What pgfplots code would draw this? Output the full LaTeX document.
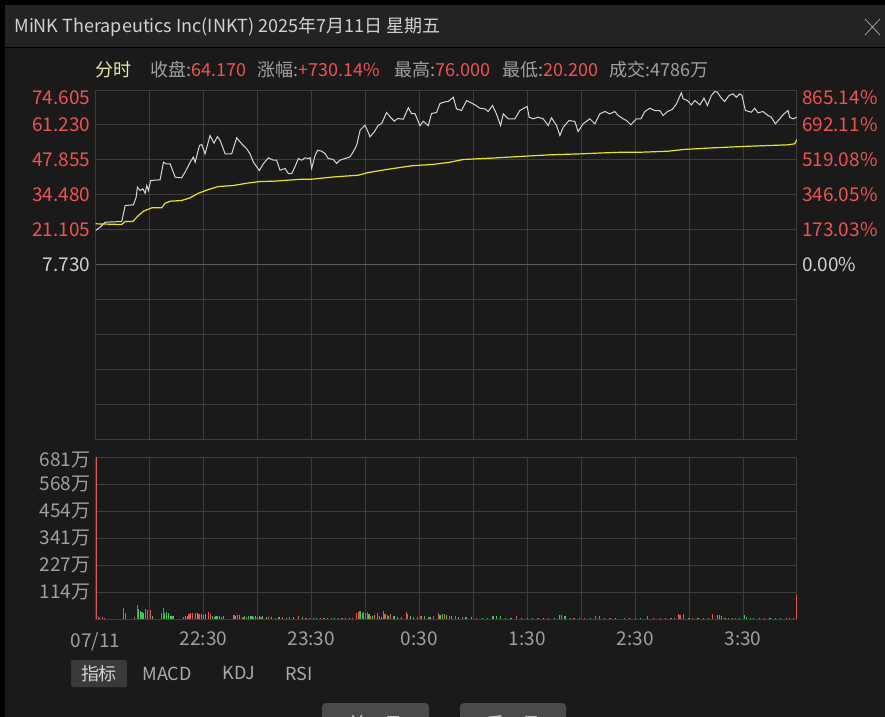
\documentclass[border=0pt]{standalone}
\usepackage{fontspec}
\setmainfont{Noto Sans CJK SC}
\usepackage{pgfplots}
\pgfplotsset{compat=1.18}

\definecolor{bg}{HTML}{1A1A1A}
\definecolor{titlebg}{HTML}{232323}
\definecolor{gridc}{HTML}{3D3D3D}
\definecolor{zeroc}{HTML}{5C5C5C}
\definecolor{upred}{HTML}{F05252}
\definecolor{txt}{HTML}{A0A0A0}
\definecolor{lightt}{HTML}{D2D2D2}
\definecolor{pricec}{HTML}{D6D6D6}
\definecolor{avgc}{HTML}{E6E619}
\definecolor{volred}{HTML}{E05555}
\definecolor{volgreen}{HTML}{3FC35A}
\definecolor{fenshi}{HTML}{E8E8A0}
\definecolor{btn}{HTML}{3A3A3A}
\definecolor{btn2}{HTML}{4A4A4A}

\newcommand{\fs}[1]{\fontsize{#1}{#1}\selectfont}

\begin{document}
\begin{tikzpicture}
\path[use as bounding box] (0,0) rectangle (442.5pt,-358.5pt);
\fill[bg] (0,0) rectangle (442.5pt,-358.5pt);
\begin{scope}[x=0.5pt,y=-0.5pt]
  \clip (0,0) rectangle (885,717);
  \fill[black] (0,0) rectangle (885,5);
  \fill[black] (0,0) rectangle (5,717);
  \fill[titlebg] (5,5) rectangle (885,48);
  \draw[black, line width=0.5pt] (5,48) -- (885,48);
  \node[anchor=west, text=lightt, font=\fs{9}, inner sep=0pt] at (14,27) {MiNK Therapeutics Inc(INKT) 2025年7月11日 星期五};
  \draw[txt, line width=0.4pt] (865,19) -- (880,35) (865,35) -- (880,19);
  % info line
  \begin{scope}[every node/.style={anchor=west, inner sep=0pt, font=\fs{9}}]
    \node[text=fenshi] at (95,70) {分时};
    \node at (150,70) {\textcolor{txt}{收盘:}\textcolor{upred}{64.170}};
    \node at (257,70) {\textcolor{txt}{涨幅:}\textcolor{upred}{+730.14\%}};
    \node at (394,70) {\textcolor{txt}{最高:}\textcolor{upred}{76.000}};
    \node at (502,70) {\textcolor{txt}{最低:}\textcolor{upred}{20.200}};
    \node at (609,70) {\textcolor{txt}{成交:4786万}};
  \end{scope}
  % indicator buttons
  \fill[btn, rounded corners=1pt] (71,660) rectangle (127,687);
  \node[text=lightt, font=\fs{9}] at (99,673.5) {指标};
  \node[text=txt!90!white, font=\fs{9}] at (167,673.5) {MACD};
  \node[text=txt!90!white, font=\fs{9}] at (239,673.5) {KDJ};
  \node[text=txt!90!white, font=\fs{9}] at (299,673.5) {RSI};
  % bottom buttons (cut off by the window edge, as in the screenshot)
  \fill[btn2, rounded corners=2pt] (322,703) rectangle (429,730);
  \fill[btn2, rounded corners=2pt] (460,703) rectangle (566,730);
  \node[text=lightt, font=\fs{9}] at (375,724) {前一日};
  \node[text=lightt, font=\fs{9}] at (513,724) {后一日};
\end{scope}

% ---------------- price panel ----------------
\begin{axis}[
  at={(47.75pt,-219.5pt)}, anchor=south west,
  scale only axis, width=350.75pt, height=174.5pt,
  xmin=0, xmax=390, ymin=-59.145, ymax=74.605,
  xtick={0,30,...,390}, xticklabels={},
  ytick={-59.145,-45.77,-32.395,-19.02,-5.645,7.73,21.105,34.48,47.855,61.23},
  yticklabels={,,,,,\textcolor{lightt}{7.730},21.105,34.480,47.855,61.230},
  extra y ticks={74.605}, extra y tick labels={74.605},
  extra y tick style={yticklabel style={yshift=-4pt}},
  grid=major, grid style={gridc, line width=0.5pt},
  axis line style={gridc, line width=0.5pt},
  major tick length=0,
  yticklabel style={font=\fs{9.5}, text=upred, anchor=east, xshift=1pt},
]
\addplot[zeroc, line width=0.9pt, forget plot] coordinates {(0,7.73) (390,7.73)};
\addplot[pricec, line width=0.5pt] coordinates {
(0,20.76) (2.6,22.02) (5.4,23.94) (14.6,24.21) (16.5,30.34) (21.1,30.61)
(22.6,33.52) (23.3,37.35) (24.8,36.09) (26.3,36.74) (27.6,35.05) (28.5,38.01)
(29.4,36.09) (30.7,39.92) (35.9,40.19) (37.8,46.94) (39.3,46.32) (41.5,46.32)
(44.3,41.19) (47.9,40.96) (49.8,43.10) (52.6,46.94) (54.4,48.85) (55.4,46.94)
(57.8,53.34) (59.1,53.72) (60.9,50.15) (63.7,57.17) (65.9,54.22) (67.8,56.78)
(69.3,55.25) (72.1,50.15) (75.7,50.15) (78.5,56.29) (81.3,53.99) (84.1,52.07)
(85.9,50.15) (87.8,46.94) (91.1,43.75) (93.3,46.32) (96.1,48.62) (98.9,47.70)
(100.7,47.70) (102.6,43.87) (105.4,44.52) (107.2,42.60) (109.1,42.60) (110.9,45.17)
(112.8,48.35) (114.6,47.70) (116.5,48.62) (118.3,48.35) (119.3,48.62) (120.2,44.52)
(122.1,49.62) (123.5,51.53) (125.7,51.15) (127.6,50.27) (129.4,48.35) (132.2,47.97)
(134.1,46.44) (135.9,47.70) (138.7,48.35) (141.5,49.00) (143.3,50.92) (145.2,53.45)
(147.1,59.20) (149.8,61.11) (151.1,59.20) (152.6,56.67) (155.0,58.59) (157.2,61.11)
(159.1,61.77) (161.8,65.98) (164.6,63.68) (166.1,62.65) (168.0,63.68) (171.1,63.41)
(173.9,67.78) (175.7,65.60) (177.6,65.60) (180.4,60.89) (182.2,62.65) (185.0,60.89)
(186.8,65.60) (189.6,65.98) (191.5,69.43) (194.3,70.08) (196.1,70.20) (198.9,71.85)
(200.7,67.40) (203.5,66.75) (206.3,70.58) (208.2,69.93) (210.9,68.93) (213.7,67.63)
(216.5,67.40) (218.3,66.37) (220.7,68.67) (222.9,65.48) (225.2,61.00) (226.7,65.48)
(229.4,63.57) (233.2,63.57) (235.9,66.75) (240.0,68.28) (241.1,64.18) (243.3,63.57)
(246.1,64.18) (248.9,63.57) (251.7,61.00) (253.5,63.95) (256.3,61.00) (258.2,57.17)
(260.0,60.35) (263.3,62.92) (266.5,62.53) (268.3,58.70) (271.1,61.65) (274.8,63.57)
(277.6,61.65) (280.4,65.48) (283.2,66.37) (285.9,65.48) (288.7,66.37) (290.6,64.83)
(293.3,63.57) (295.2,62.92) (297.6,61.27) (300.7,63.57) (303.2,63.57) (305.4,66.37)
(308.2,67.63) (310.9,66.75) (313.7,66.75) (315.6,64.83) (318.0,66.37) (320.6,67.13)
(323.0,69.32) (325.7,73.53) (326.7,71.23) (329.1,70.58) (331.3,68.93) (333.2,70.58)
(336.0,68.93) (338.3,71.46) (340.2,68.67) (342.4,72.50) (344.3,74.03) (345.7,73.76)
(348.0,71.46) (349.8,70.20) (352.2,72.50) (354.4,73.15) (356.3,71.85) (358.2,73.15)
(359.4,72.50) (361.3,66.75) (364.6,66.10) (366.5,67.63) (368.3,65.87) (371.1,66.37)
(373.9,64.83) (375.7,64.18) (378.0,61.65) (380.4,63.57) (382.2,65.10) (385.0,66.75)
(385.9,64.18) (387.8,63.57) (390,64.17)
};
\addplot[avgc, line width=0.6pt] coordinates {
(0,23.33) (14.6,23.06) (16.5,24.21) (20.7,24.21) (23.9,26.51) (26.7,28.16)
(31.3,29.46) (36.8,29.46) (38.7,31.22) (41.5,31.99) (47.9,32.26) (52.6,33.29)
(57.2,35.05) (62.8,36.47) (68.3,37.62) (76.7,38.01) (84.1,38.89) (91.5,39.54)
(98.9,39.65) (114.6,40.42) (120.2,40.42) (133.2,41.34) (146.1,41.95) (151.7,42.99)
(162.8,44.25) (175.7,45.56) (186.8,46.05) (196.1,46.82) (204.4,47.97) (219.3,48.47)
(238.7,49.23) (252.6,49.77) (270.2,50.15) (283.2,50.54) (293.3,50.77) (303.5,50.77)
(318.3,51.15) (326.7,51.80) (343.3,52.45) (363.7,53.07) (385.0,53.60) (388.7,53.99)
(390,55.63)
};
\end{axis}

% percent labels on the right
\begin{axis}[
  at={(47.75pt,-219.5pt)}, anchor=south west,
  scale only axis, width=350.75pt, height=174.5pt,
  xmin=0, xmax=390, ymin=-59.145, ymax=74.605,
  axis x line=none, axis y line*=right,
  y axis line style={draw=none},
  ytick={7.73,21.105,34.48,47.855,61.23},
  yticklabels={\textcolor{lightt}{0.00\%},173.03\%,346.05\%,519.08\%,692.11\%},
  extra y ticks={74.605}, extra y tick labels={865.14\%},
  extra y tick style={yticklabel style={yshift=-4pt}},
  major tick length=0,
  yticklabel style={font=\fs{9.5}, text=upred, anchor=west, xshift=-1pt},
]
\end{axis}

% ---------------- volume panel ----------------
\begin{axis}[
  at={(47.75pt,-309.5pt)}, anchor=south west,
  scale only axis, width=350.75pt, height=81pt,
  xmin=0, xmax=390, ymin=0, ymax=681,
  xtick={0,30,...,390},
  xticklabels={07/11,,22:30,,23:30,,0:30,,1:30,,2:30,,3:30,},
  xticklabel style={font=\fs{9.5}, text=txt, yshift=-3pt},
  ytick={113.5,227,340.5,454,567.5},
  yticklabels={114万,227万,341万,454万,568万},
  extra y ticks={681}, extra y tick labels={681万},
  extra y tick style={yticklabel style={yshift=-1.5pt}},
  yticklabel style={font=\fs{9.5}, text=txt, anchor=east, xshift=1pt},
  grid=major, grid style={gridc, line width=0.5pt},
  axis line style={gridc, line width=0.5pt},
  major tick length=0,
]
\addplot[ycomb, volred, line width=0.6pt] coordinates {
(0.7,681) (1.5,7) (2.2,6) (3.7,7) (5.2,5) (15.7,47) (16.7,27) (21.9,10) (23.2,60)
(28,41) (29,38) (30.4,38) (36.7,27) (37.6,48) (49,10) (51,14) (52,21) (53,27)
(54,24) (55.5,25) (57.5,22) (63,29) (64,22) (77,17) (79,15) (82,8) (84,10) (88,9)
(92,7) (96,8) (100,6) (104,7) (108,8) (113,14) (117,6) (121,5) (125,4) (131,5)
(137,4) (143,6) (145,25) (146,30) (147,32) (149,31) (150,25) (151,29) (153,14)
(155,18) (156.7,25) (158,12) (160,32) (161,21) (162.5,18) (164,21) (168,10)
(172.8,28) (173.5,21) (177,10) (181,12) (185,8) (188,14) (190.6,25) (192,18)
(194,21) (197,14) (200,12) (204,9) (212,6) (218,5) (228,5) (234,14) (240,5)
(246,6) (252,5) (266,6) (272,5) (278,14) (280,12) (286,6) (294,5) (300,6) (307,11)
(314,5) (320,6) (324,21) (325,18) (327,21) (332,6) (338,5) (343,21) (352,6) (356,5)
(366,6) (372,5) (378,6) (384,5) (388,6) (389.6,102)
};
\addplot[ycomb, volgreen, line width=0.6pt] coordinates {
(24.1,42) (25,34) (25.9,29) (26.9,24) (31.5,13) (38.5,24) (39.4,29) (40.4,27)
(41.5,13) (42.5,13) (43.5,13) (50,14) (56.5,25) (59,20) (60,18) (61,20) (65,13)
(66,10) (67,13) (68,12) (69,13) (70,9) (71,11) (78,12) (80,17) (83,11) (85,14)
(86,12) (87,14) (89,13) (90,10) (91,14) (93,12) (95,9) (98,7) (102,8) (106,6)
(110,7) (115,7) (119,5) (123,5) (127,6) (129,5) (133,4) (135,6) (139,5) (141,4)
(147.5,28) (148.5,27) (152,20) (154,12) (157,14) (159,10) (163,12) (166,11) (170,9)
(175,11) (179,8) (183,14) (186,10) (191.5,16) (193,20) (195,17) (198,11) (202,10)
(206,8) (209,7) (215,5) (221,11) (223,11) (225,11) (231,5) (237,5) (243,6) (249,5)
(255,6) (258,15) (259,15) (261,13) (264,5) (269,6) (275,5) (283,6) (289,5) (297,6)
(303,5) (310,6) (317,5) (322,6) (330,5) (335,6) (341,5) (346,15) (347,15) (348,13)
(350,6) (354,5) (358,6) (361,15) (362,10) (364,6) (369,5) (375,6) (381,5) (386,6)
};
\end{axis}
\end{tikzpicture}
\end{document}
